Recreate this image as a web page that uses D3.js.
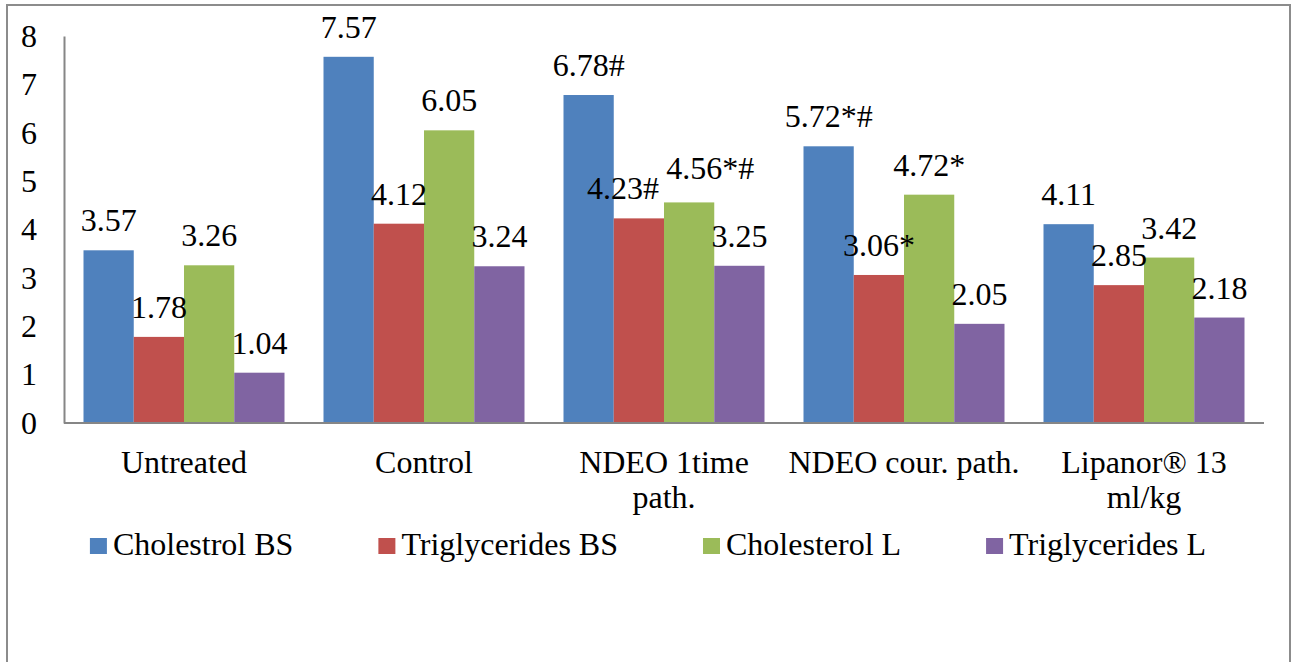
<!DOCTYPE html>
<html>
<head>
<meta charset="utf-8">
<script src="https://cdn.jsdelivr.net/npm/d3@7"></script>
<style>
  html, body { margin: 0; padding: 0; background: #fff; }
  svg { display: block; }
  text { font-family: "Liberation Serif", "Times New Roman", Times, serif; fill: #000; }
</style>
</head>
<body>
<svg id="chart" width="1291" height="662"></svg>
<script>
// ---- data ----
const categories = ["Untreated", "Control", "NDEO 1time path.", "NDEO cour. path.", "Lipanor® 13 ml/kg"];
const seriesNames = ["Cholestrol BS", "Triglycerides BS", "Cholesterol L", "Triglycerides L"];
const cholestrolBS = [3.57, 7.57, 6.78, 5.72, 4.11];
const triglyceridesBS = [1.78, 4.12, 4.23, 3.06, 2.85];
const cholesterolL = [3.26, 6.05, 4.56, 4.72, 3.42];
const triglyceridesL = [1.04, 3.24, 3.25, 2.05, 2.18];
const cholestrolBSMarks = ["", "", "#", "*#", ""];
const triglyceridesBSMarks = ["", "", "#", "*", ""];
const cholesterolLMarks = ["", "", "*#", "*", ""];
const triglyceridesLMarks = ["", "", "", "", ""];
const yTicks = [0, 1, 2, 3, 4, 5, 6, 7, 8];

const seriesValues = [cholestrolBS, triglyceridesBS, cholesterolL, triglyceridesL];
const seriesMarks = [cholestrolBSMarks, triglyceridesBSMarks, cholesterolLMarks, triglyceridesLMarks];

// ---- style / layout ----
const colors = ["#4F81BD", "#C0504D", "#9BBB59", "#8064A2"];
const fontSize = 32;
const fontFamily = '"Liberation Serif", "Times New Roman", Times, serif';
const plot = { left: 64, right: 1264, top: 36, bottom: 423 };
// label nudges (layout only) keyed by "series-category"
const labelNudge = { "1-2": [-16, 0], "2-2": [21, -4] };

const svg = d3.select("#chart");

// outer border
svg.append("rect")
  .attr("x", 7).attr("y", 5).attr("width", 1283).attr("height", 700)
  .attr("fill", "none").attr("stroke", "#8c8c8c").attr("stroke-width", 2);

const x0 = d3.scaleBand().domain(categories).range([plot.left, plot.right])
  .paddingInner(0.1625).paddingOuter(0.08125);
const x1 = d3.scaleBand().domain(seriesNames).range([0, x0.bandwidth()]);
const y = d3.scaleLinear().domain([0, 8]).range([plot.bottom, plot.top]);

const table = [];
categories.forEach((c, ci) => {
  seriesNames.forEach((s, si) => {
    table.push({ cat: c, ci, series: s, si, value: seriesValues[si][ci], mark: seriesMarks[si][ci] });
  });
});

// bars
svg.append("g").selectAll("rect").data(table).join("rect")
  .attr("x", d => x0(d.cat) + x1(d.series))
  .attr("y", d => y(d.value))
  .attr("width", x1.bandwidth())
  .attr("height", d => y(0) - y(d.value))
  .attr("fill", d => colors[d.si]);

// y axis
const yAxis = d3.axisLeft(y).tickValues(yTicks).tickSize(0).tickPadding(27).tickFormat(d3.format("d"));
const gy = svg.append("g").attr("transform", `translate(${plot.left},0)`).call(yAxis);
gy.attr("font-family", null).attr("font-size", null);
gy.select(".domain").attr("stroke", "#868686").attr("stroke-width", 2);
gy.selectAll("text").style("font-size", fontSize + "px").attr("fill", "#000")
  .style("font-family", fontFamily);

// x axis
const xAxis = d3.axisBottom(x0).tickSize(0).tickFormat("");
const gx = svg.append("g").attr("transform", `translate(0,${plot.bottom})`).call(xAxis);
gx.select(".domain").attr("stroke", "#868686").attr("stroke-width", 2)
  .attr("d", `M${plot.left},0H${plot.right}`);

// category labels with wrapping
const maxW = x0.step() * 0.97;
const catG = svg.append("g");
categories.forEach(c => {
  const cx = x0(c) + x0.bandwidth() / 2;
  const t = catG.append("text")
    .attr("x", cx)
    .attr("y", 473)
    .attr("text-anchor", "middle")
    .style("font-size", fontSize + "px")
    .style("font-family", fontFamily);
  const words = c.split(" ");
  let line = [];
  let tspan = t.append("tspan").attr("x", cx).attr("dy", 0);
  words.forEach(w => {
    line.push(w);
    tspan.text(line.join(" "));
    if (tspan.node().getComputedTextLength() > maxW && line.length > 1) {
      line.pop();
      tspan.text(line.join(" "));
      line = [w];
      tspan = t.append("tspan").attr("x", cx).attr("dy", 35).text(w);
    }
  });
});

// data labels
svg.append("g").selectAll("text").data(table).join("text")
  .attr("x", d => x0(d.cat) + x1(d.series) + x1.bandwidth() / 2 + ((labelNudge[d.si + "-" + d.ci] || [0, 0])[0]))
  .attr("y", d => y(d.value) - 19 + ((labelNudge[d.si + "-" + d.ci] || [0, 0])[1]))
  .attr("text-anchor", "middle")
  .style("font-size", fontSize + "px")
  .style("font-family", fontFamily)
  .text(d => d.value.toFixed(2) + d.mark);

// legend
const legend = svg.append("g");
const items = seriesNames.map((s, i) => {
  const g = legend.append("g");
  g.append("rect").attr("x", 0).attr("y", -17).attr("width", 17).attr("height", 16).attr("fill", colors[i]);
  const t = g.append("text").attr("x", 23).attr("y", 0)
    .style("font-size", fontSize + "px").style("font-family", fontFamily).text(s);
  return { g, w: 23 + t.node().getComputedTextLength() };
});
const gap = 85;
const total = items.reduce((a, b) => a + b.w, 0) + gap * (items.length - 1);
let lx = 648 - total / 2;
items.forEach(it => {
  it.g.attr("transform", `translate(${lx},555)`);
  lx += it.w + gap;
});
</script>
</body>
</html>
